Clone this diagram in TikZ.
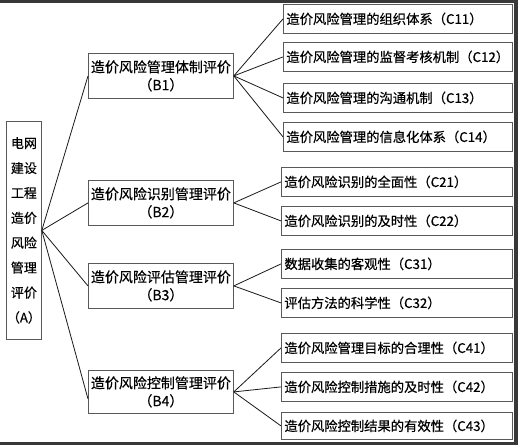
\documentclass[tikz,border=0pt]{standalone}
\usepackage{fontspec}
\setmainfont{Noto Sans CJK SC}[FakeBold=0.5,AutoFakeBold=0]
\begin{document}
\begin{tikzpicture}[x=1pt,y=-1pt,
  box/.style={draw=black!65,line width=0.8pt,inner sep=0pt,text=black},
  abox/.style={box,anchor=north west,minimum width=35pt,minimum height=218pt,align=center,
     font=\fontsize{13}{24.9}\selectfont},
  bbox/.style={box,anchor=north west,minimum width=145pt,minimum height=45pt,align=center,
     font=\fontsize{14}{18}\selectfont},
  cbox/.style={box,anchor=north west,minimum height=29pt,text width=223pt,inner xsep=3pt,align=left,
     font=\fontsize{13.3}{16}\selectfont},
  link/.style={draw=black!90,line width=0.8pt}]
\useasboundingbox (0,0) rectangle (518,445);
\fill[white] (0,0) rectangle (518,445);
\fill[black!78] (0,0) rectangle (518,3);
\fill[black!78] (514,0) rectangle (518,445);
\fill[black!78] (0,442) rectangle (518,445);

\node[abox] (a) at (6,121) {电网\\建设\\工程\\造价\\风险\\管理\\评价\\（A）};

\node[bbox] (b1) at (88,53) {造价风险管理体制评价\\（B1）};
\node[bbox] (b2) at (88,180) {造价风险识别管理评价\\（B2）};
\node[bbox] (b3) at (88,263) {造价风险评估管理评价\\（B3）};
\node[bbox,minimum height=43pt] (b4) at (88,370) {造价风险控制管理评价\\（B4）};

\node[cbox] (c11) at (283,4) {造价风险管理的组织体系（C11）};
\node[cbox] (c12) at (283,42) {造价风险管理的监督考核机制（C12）};
\node[cbox] (c13) at (283,83) {造价风险管理的沟通机制（C13）};
\node[cbox] (c14) at (283,122) {造价风险管理的信息化体系（C14）};
\node[cbox,text width=225pt] (c21) at (281,167) {造价风险识别的全面性（C21）};
\node[cbox,text width=225pt] (c22) at (281,206) {造价风险识别的及时性（C22）};
\node[cbox,text width=225pt] (c31) at (281,249) {数据收集的客观性（C31）};
\node[cbox,text width=225pt] (c32) at (281,288) {评估方法的科学性（C32）};
\node[cbox,text width=225pt] (c41) at (281,333) {造价风险管理目标的合理性（C41）};
\node[cbox,text width=225pt] (c42) at (281,372) {造价风险控制措施的及时性（C42）};
\node[cbox,text width=225pt,minimum height=27pt] (c43) at (281,412) {造价风险控制结果的有效性（C43）};

\coordinate (b4in) at ([yshift=-7pt]b4.west);
\draw[link] (a.east) -- (b1.west);
\draw[link] (a.east) -- (b2.west);
\draw[link] (a.east) -- (b3.west);
\draw[link] (a.east) -- (b4in);
\foreach \c in {c11,c12,c13,c14} \draw[link] (b1.east) -- (\c.west);
\foreach \c in {c21,c22} \draw[link] (b2.east) -- (\c.west);
\foreach \c in {c31,c32} \draw[link] (b3.east) -- (\c.west);
\foreach \c in {c41,c42,c43} \draw[link] (b4.east) -- (\c.west);
\end{tikzpicture}
\end{document}
